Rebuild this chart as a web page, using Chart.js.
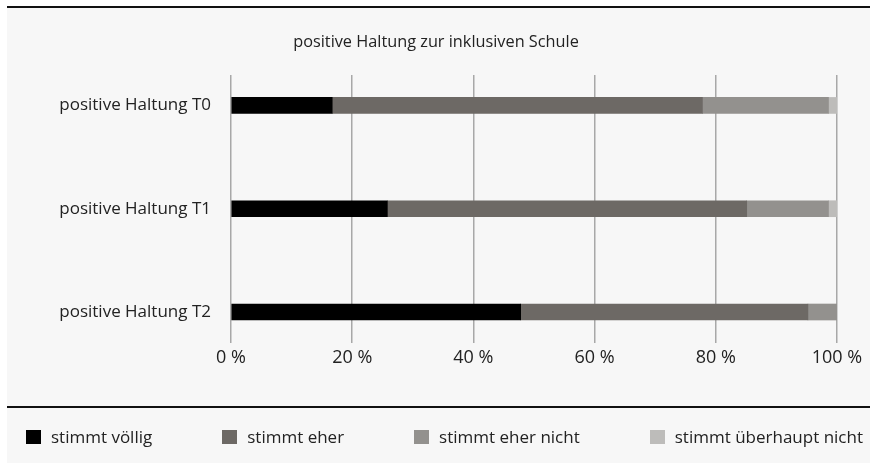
<!DOCTYPE html>
<html lang="de">
<head>
<meta charset="utf-8">
<script src="https://cdn.jsdelivr.net/npm/chart.js@4"></script>
<style>
  body { margin: 0; background: #fff; font-family: "Open Sans", sans-serif; }
  #panel { position: absolute; left: 7px; top: 8px; width: 863px; height: 455px; background: #f7f7f7; }
  .linie { position: absolute; left: 7px; width: 863px; background: #111; }
  #wrap { position: absolute; left: 0; top: 0; width: 870px; height: 463px; }
  #legende { position: absolute; left: 26px; top: 427px; height: 20px; display: flex; gap: 70px; font-size: 17px; color: #222; }
  .eintrag { display: flex; align-items: center; line-height: 20px; white-space: nowrap; }
  .kasten { width: 15px; height: 14px; margin-right: 10px; }
</style>
</head>
<body>
<div id="panel"></div>
<div class="linie" style="top:6px;height:2px"></div>
<div class="linie" style="top:406px;height:1.5px"></div>
<div id="wrap"><canvas id="grafik"></canvas></div>
<div id="legende"></div>
<script>
// ===== DATEN =====
const kategorien = ['positive Haltung T0', 'positive Haltung T1', 'positive Haltung T2'];
const serien = ['stimmt völlig', 'stimmt eher', 'stimmt eher nicht', 'stimmt überhaupt nicht'];
const stimmtVoellig = [16.7, 25.8, 47.8];
const stimmtEher = [61.1, 59.3, 47.4];
const stimmtEherNicht = [20.8, 13.5, 4.8];
const stimmtUeberhauptNicht = [1.4, 1.4, 0];
const prozentTicks = [0, 20, 40, 60, 80, 100];
const farben = ['#000000', '#6d6965', '#93918e', '#bdbcba'];

const werte = [stimmtVoellig, stimmtEher, stimmtEherNicht, stimmtUeberhauptNicht];

Chart.defaults.font.family = '"Open Sans", sans-serif';
Chart.defaults.font.size = 17;
Chart.defaults.color = '#222';

// ===== GRAFIK =====
const chart = new Chart(document.getElementById('grafik'), {
  type: 'bar',
  data: {
    datasets: serien.map((name, s) => ({
      label: name,
      data: werte[s].map((v, i) => ({ x: v, y: i })),
      backgroundColor: farben[s],
      borderWidth: 0,
      barThickness: 16
    }))
  },
  options: {
    indexAxis: 'y',
    animation: false,
    responsive: true,
    maintainAspectRatio: false,
    layout: { padding: { left: 7, right: 5, top: 0, bottom: 96 } },
    scales: {
      x: {
        stacked: true,
        min: 0,
        max: 100,
        grid: { color: '#a8a8a8', lineWidth: 1.5, drawTicks: false },
        border: { display: false },
        afterBuildTicks: (scale) => { scale.ticks = prozentTicks.map(v => ({ value: v })); },
        afterFit: (scale) => { scale.height = 24; },
        ticks: { padding: 4, maxRotation: 0, font: { size: 18 }, callback: (v) => v + ' %' }
      },
      y: {
        type: 'linear',
        stacked: true,
        reverse: true,
        offset: false,
        min: -0.295,
        max: 2.3,
        grid: { display: false, drawTicks: false },
        border: { display: false },
        afterFit: (scale) => { scale.width = 224; },
        ticks: {
          stepSize: 1,
          includeBounds: false,
          padding: 20,
          callback: (v) => kategorien[v] ?? ''
        }
      },
      rechts: {
        type: 'linear',
        position: 'right',
        grid: { display: false },
        border: { display: false },
        ticks: { display: false },
        afterFit: (scale) => { scale.width = 28; }
      }
    },
    plugins: {
      title: {
        display: true,
        text: 'positive Haltung zur inklusiven Schule',
        font: { size: 16.3, weight: 'normal' },
        padding: { top: 32.2, bottom: 23.2 }
      },
      legend: { display: false },
      tooltip: { enabled: false }
    }
  }
});

// ===== LEGENDE =====
const legende = document.getElementById('legende');
chart.data.datasets.forEach(ds => {
  const item = document.createElement('div');
  item.className = 'eintrag';
  const kasten = document.createElement('span');
  kasten.className = 'kasten';
  kasten.style.background = ds.backgroundColor;
  const text = document.createElement('span');
  text.textContent = ds.label;
  item.appendChild(kasten);
  item.appendChild(text);
  legende.appendChild(item);
});
</script>
</body>
</html>
